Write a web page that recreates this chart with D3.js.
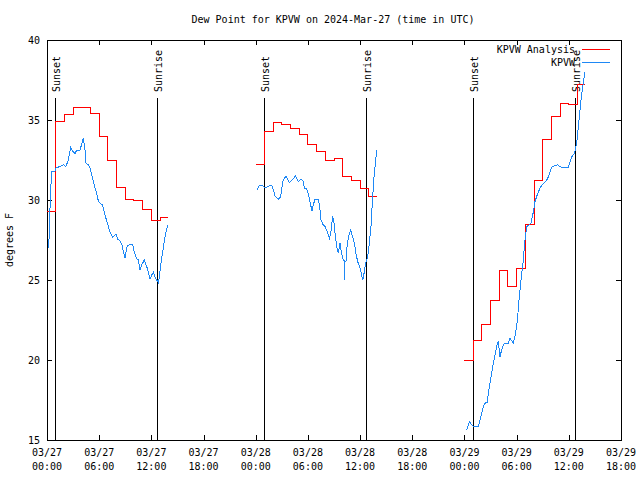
<!DOCTYPE html>
<html>
<head>
<meta charset="utf-8">
<script src="https://cdn.jsdelivr.net/npm/d3@7"></script>
<style>
  body { margin: 0; background: #fff; }
  text { font-family: "DejaVu Sans Mono", monospace; font-size: 10px; fill: #000; }
</style>
</head>
<body>
<svg width="640" height="480"></svg>
<script>
// hours are counted from 2024-03-27 00:00 UTC
var startTime = Date.UTC(2024, 2, 27, 0, 0);
var endHour = 66;
var yTicks = [15, 20, 25, 30, 35, 40];

// KPVW Analysis: hourly values, one array per day, starting at 00Z
var analysisStart = [0, 24, 48];
var analysisEnd = [13.9, 37.9, 61.9];
var analysisDay1 = [29.3, 34.9, 35.35, 35.8, 35.8, 35.4, 34.0, 32.45, 30.8, 30.05, 29.95, 29.4, 28.7, 28.9];
var analysisDay2 = [32.25, 34.3, 34.85, 34.7, 34.45, 34.1, 33.5, 33.05, 32.45, 32.6, 31.5, 31.2, 30.7, 30.25];
var analysisDay3 = [19.95, 21.2, 22.25, 23.7, 25.6, 24.6, 25.7, 28.5, 31.25, 33.8, 35.2, 36.05, 36.0, 37.25];

// KPVW observations: [hour, dew point]
var obsDay1 = [[0.15,27.0],[0.27,27.8],[0.34,29.4],[0.46,31.0],[0.54,31.8],[0.92,31.8],[1.03,32.0],[1.49,32.1],
  [1.88,32.2],[2.18,32.1],[2.45,32.5],[2.72,33.3],[2.95,33.05],[3.22,32.9],[3.41,33.1],[3.79,33.1],[3.99,33.5],
  [4.18,33.85],[4.37,33.1],[4.48,32.3],[4.75,32.2],[4.94,32.0],[5.14,31.55],[5.33,31.15],[5.52,30.75],[5.71,30.4],
  [5.9,29.95],[6.09,29.8],[6.36,29.7],[6.59,29.25],[6.78,28.85],[7.05,28.35],[7.24,28.0],[7.55,27.65],[7.82,27.8],
  [7.93,27.85],[8.13,27.55],[8.39,27.45],[8.59,27.25],[8.78,26.8],[8.97,26.4],[9.24,27.15],[9.47,27.2],[9.85,27.2],
  [10.04,26.75],[10.31,26.35],[10.5,26.25],[10.69,25.65],[10.89,25.95],[11.19,26.25],[11.46,25.85],[11.65,25.5],
  [11.84,25.05],[12.03,25.3],[12.23,25.5],[12.42,25.2],[12.61,25.0],[12.8,24.85],[12.92,25.15],[13.07,25.95],
  [13.3,26.75],[13.57,27.7],[13.88,28.45]];
var obsDay2 = [[24.18,30.65],[24.41,30.9],[24.8,30.9],[25.07,30.75],[25.26,30.8],[25.57,30.9],[25.87,30.9],
  [26.02,30.65],[26.22,30.25],[26.6,30.05],[26.87,30.2],[27.1,31.15],[27.29,31.35],[27.48,31.5],[27.68,31.3],
  [27.86,31.1],[28.25,31.3],[28.59,31.5],[28.9,31.15],[29.21,31.3],[29.48,31.15],[29.59,30.75],[29.86,30.7],
  [30.05,30.4],[30.24,29.9],[30.47,29.3],[30.62,29.7],[30.82,30.05],[31.2,30.05],[31.39,29.4],[31.47,28.8],
  [31.7,28.5],[31.97,28.35],[32.16,28.1],[32.47,27.6],[32.65,28.0],[32.85,29.0],[33.0,28.55],[33.15,27.75],
  [33.31,27.1],[33.5,26.7],[33.69,27.3],[33.88,26.65],[34.07,26.25],[34.16,26.2],[34.19,25.0],[34.24,26.2],
  [34.38,26.15],[34.53,27.3],[34.73,27.8],[34.92,28.1],[35.15,27.7],[35.34,27.3],[35.53,26.65],[35.72,26.15],
  [35.99,25.75],[36.18,25.3],[36.3,25.0],[36.45,25.4],[36.64,26.05],[36.87,26.45],[37.06,27.3],[37.25,28.35],
  [37.45,30.2],[37.6,31.45],[37.79,32.5],[37.91,33.1]];
var obsDay3 = [[48.26,15.6],[48.56,16.15],[48.83,15.95],[49.02,15.85],[49.6,15.85],[49.79,16.25],[49.98,16.65],
  [50.17,17.1],[50.36,17.3],[50.63,17.35],[50.74,17.9],[50.94,18.55],[51.13,19.15],[51.32,19.8],[51.51,20.3],
  [51.7,20.85],[51.89,21.15],[52.09,20.2],[52.28,20.65],[52.58,21.05],[53.04,21.05],[53.24,21.35],[53.62,21.05],
  [53.81,21.5],[54.0,22.1],[54.12,22.7],[54.27,23.75],[54.43,24.6],[54.58,25.4],[54.77,26.25],[54.89,27.1],
  [55.04,27.9],[55.19,28.35],[55.42,28.45],[55.65,28.55],[55.8,28.95],[55.92,29.25],[56.11,29.9],[56.42,30.4],
  [56.69,30.75],[56.96,30.95],[57.34,31.15],[57.57,31.35],[57.84,31.75],[58.03,32.05],[58.41,32.15],[58.72,32.2],
  [59.1,32.05],[59.56,32.05],[59.94,32.05],[60.14,32.4],[60.33,32.7],[60.63,32.9],[60.79,33.25],[60.94,33.75],
  [61.1,34.6],[61.25,35.4],[61.4,36.25],[61.56,36.9],[61.71,37.5],[61.87,38.0]];

var sunsetHours = [0.95, 24.97, 49.0];
var sunriseHours = [12.67, 36.67, 60.7];

var hourToDate = function(h){ return new Date(startTime + h * 3600000); };

var svg = d3.select("svg");
var plotLeft = 47, plotRight = 621, plotTop = 40, plotBottom = 440;

var x = d3.scaleUtc().domain([hourToDate(0), hourToDate(endHour)]).range([plotLeft, plotRight]);
var y = d3.scaleLinear().domain([15, 40]).range([plotBottom, plotTop]);

var crisp = function(sel){ sel.attr("shape-rendering", "crispEdges"); };

// title
svg.append("text").attr("x", 333).attr("y", 23).attr("text-anchor", "middle")
  .text("Dew Point for KPVW on 2024-Mar-27 (time in UTC)");

// y axis label
svg.append("text").attr("transform", "translate(13,240) rotate(-90)")
  .attr("text-anchor", "middle").text("degrees F");

// axes
var majorTicks = x.ticks(d3.utcHour.every(6));
var minorTicks = x.ticks(d3.utcHour.every(2));
var fmtDay = d3.utcFormat("%m/%d"), fmtHour = d3.utcFormat("%H:%M");

var gx = svg.append("g").attr("transform", "translate(0," + plotBottom + ")").call(crisp);
gx.call(d3.axisBottom(x).tickValues(minorTicks).tickSize(-3).tickFormat(""));
gx.call(d3.axisBottom(x).tickValues(majorTicks).tickSize(-5).tickFormat(""));
var gxTop = svg.append("g").attr("transform", "translate(0," + plotTop + ")").call(crisp);
gxTop.call(d3.axisTop(x).tickValues(minorTicks).tickSize(-3).tickFormat(""));
gxTop.call(d3.axisTop(x).tickValues(majorTicks).tickSize(-5).tickFormat(""));

var gy = svg.append("g").attr("transform", "translate(" + plotLeft + ",0)").call(crisp);
gy.call(d3.axisLeft(y).tickValues(yTicks).tickSize(-5).tickPadding(7));
var gyR = svg.append("g").attr("transform", "translate(" + plotRight + ",0)").call(crisp);
gyR.call(d3.axisRight(y).tickValues(yTicks).tickSize(-5).tickFormat(""));

svg.selectAll(".domain").remove();
svg.selectAll(".tick line").attr("stroke", "#000");
gy.selectAll(".tick text").attr("font-family", null).attr("font-size", null)
  .attr("dy", "0.35em");

// two-line time labels
svg.append("g").selectAll("text").data(majorTicks).enter().append("text")
  .attr("text-anchor", "middle")
  .attr("x", function(d){ return x(d); })
  .attr("y", 456)
  .each(function(d){
    var t = d3.select(this);
    t.append("tspan").attr("x", x(d)).text(fmtDay(d));
    t.append("tspan").attr("x", x(d)).attr("dy", 14).text(fmtHour(d));
  });

// border
svg.append("rect").attr("x", plotLeft + 0.5).attr("y", plotTop + 0.5)
  .attr("width", plotRight - plotLeft).attr("height", plotBottom - plotTop)
  .attr("fill", "none").attr("stroke", "#000").call(crisp);

// sunset / sunrise markers
var events = sunsetHours.map(function(h){ return {h: h, label: "Sunset"}; })
  .concat(sunriseHours.map(function(h){ return {h: h, label: "Sunrise"}; }));
var ev = svg.append("g").selectAll("g").data(events).enter().append("g");
ev.append("line")
  .attr("x1", function(d){ return Math.round(x(hourToDate(d.h))) + 0.5; })
  .attr("x2", function(d){ return Math.round(x(hourToDate(d.h))) + 0.5; })
  .attr("y1", 98).attr("y2", plotBottom)
  .attr("stroke", "#000").call(crisp);
ev.append("text")
  .attr("transform", function(d){
    return "translate(" + (Math.round(x(hourToDate(d.h))) + 5) + ",92) rotate(-90)";
  })
  .text(function(d){ return d.label; });

// analysis lines (hourly steps)
var stepLine = d3.line()
  .x(function(d){ return x(hourToDate(d[0])); })
  .y(function(d){ return y(d[1]); })
  .curve(d3.curveStepAfter);
[analysisDay1, analysisDay2, analysisDay3].forEach(function(vals, i){
  var pts = vals.map(function(v, k){ return [analysisStart[i] + k, v]; });
  pts.push([analysisEnd[i], vals[vals.length - 1]]);
  svg.append("path").datum(pts).attr("d", stepLine)
    .attr("fill", "none").attr("stroke", "#ff0000").attr("stroke-width", 1).call(crisp);
});

// observation lines
var obsLine = d3.line()
  .x(function(d){ return x(hourToDate(d[0])); })
  .y(function(d){ return y(d[1]); });
[obsDay1, obsDay2, obsDay3].forEach(function(pts){
  svg.append("path").datum(pts).attr("d", obsLine)
    .attr("fill", "none").attr("stroke", "#1e88f5").attr("stroke-width", 1).call(crisp);
});

// legend
var legend = [{name: "KPVW Analysis", color: "#ff0000"}, {name: "KPVW", color: "#1e88f5"}];
var lg = svg.append("g").selectAll("g").data(legend).enter().append("g")
  .attr("transform", function(d, i){ return "translate(0," + (49.5 + i * 13) + ")"; });
lg.append("text").attr("x", 575).attr("dy", "0.35em").attr("text-anchor", "end")
  .text(function(d){ return d.name; });
lg.append("line").attr("x1", 582).attr("x2", 610)
  .attr("stroke", function(d){ return d.color; }).call(crisp);
</script>
</body>
</html>
